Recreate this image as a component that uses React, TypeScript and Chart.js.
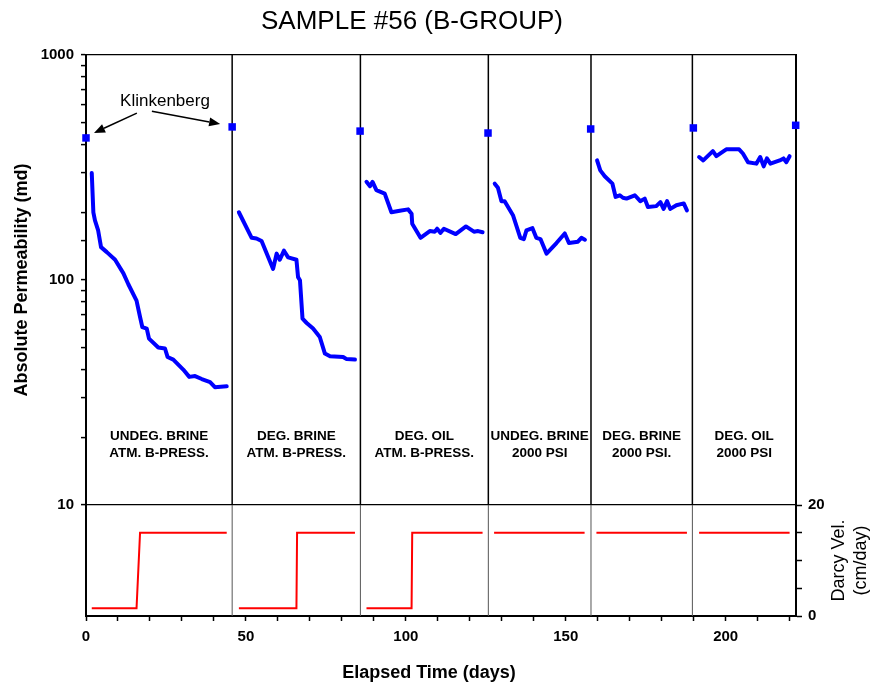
import React, { useEffect, useRef } from 'react';
import { Chart, registerables } from 'chart.js';

Chart.register(...registerables);

const FONT = '"Liberation Sans", Arial, Helvetica, sans-serif';

const TITLE = 'SAMPLE #56 (B-GROUP)';
const Y_TITLE = 'Absolute Permeability (md)';
const X_TITLE = 'Elapsed Time (days)';
const Y2_TITLE = ['Darcy Vel.', '(cm/day)'];
const NOTE = 'Klinkenberg';

// Permeability runs (days, md)
const RUN1_DAYS = [1.8, 2.3, 2.8, 3.8, 4.7, 6.5, 9.1, 11.7, 13.2, 15.8, 16.9, 17.6, 19.0, 19.7, 22.6, 24.7, 25.5, 27.3, 30.4, 32.3, 34.1, 36.2, 38.8, 40.3, 44.0];
const RUN1_PERM = [299, 200, 184, 166, 140, 133, 123, 107, 96, 81, 68.5, 61.8, 60.8, 54.9, 50.1, 49.6, 45.5, 44.3, 40.0, 37.1, 37.4, 36.3, 35.2, 33.4, 33.7];
const RUN2_DAYS = [47.8, 51.8, 53.3, 54.9, 58.5, 59.6, 60.6, 61.9, 63.2, 65.8, 66.3, 66.9, 67.7, 69.0, 71.0, 73.1, 74.7, 76.3, 80.4, 81.5, 84.1];
const RUN2_PERM = [200, 154, 153, 149, 112, 131, 123, 135, 126, 123, 103, 99.8, 67.3, 64.4, 60.8, 55.8, 47.1, 45.8, 45.5, 44.5, 44.3];
const RUN3_DAYS = [87.7, 88.8, 89.6, 90.8, 93.4, 95.5, 98.1, 100.7, 101.8, 102.0, 104.6, 107.5, 109.1, 109.8, 110.8, 111.9, 115.6, 118.8, 121.3, 122.6, 124.0];
const RUN3_PERM = [273, 261, 273, 251, 242, 200, 203, 206, 197, 178, 154, 165, 164, 169, 162, 169, 160, 173, 164, 165, 163];
const RUN4_DAYS = [127.8, 128.8, 129.9, 130.9, 133.5, 135.8, 136.9, 137.7, 139.6, 140.8, 142.1, 144.0, 147.1, 149.7, 151.0, 153.8, 154.9, 156.0];
const RUN4_PERM = [268, 257, 224, 224, 194, 154, 152, 166, 170, 154, 152, 131, 146, 161, 146, 148, 154, 151];
const RUN5_DAYS = [159.8, 160.8, 162.2, 164.6, 165.6, 166.9, 167.9, 169.0, 171.6, 173.3, 174.7, 175.7, 178.3, 179.6, 180.6, 181.7, 182.7, 184.6, 186.9, 187.9];
const RUN5_PERM = [340, 307, 289, 268, 234, 238, 232, 230, 238, 224, 230, 211, 213, 222, 207, 224, 207, 215, 219, 204];
const RUN6_DAYS = [191.7, 193.0, 196.0, 197.1, 198.7, 200.2, 204.2, 205.4, 207.0, 209.6, 210.8, 211.9, 212.9, 214.0, 216.9, 218.1, 219.0, 220.0];
const RUN6_PERM = [352, 340, 374, 355, 368, 381, 381, 365, 334, 329, 352, 320, 347, 329, 340, 347, 334, 355];

// Klinkenberg-corrected permeability
const KLINK_DAYS = [0, 45.7, 85.7, 125.7, 157.8, 189.9, 221.9];
const KLINK_PERM = [428, 479, 459, 450, 469, 474, 487];

// Darcy velocity steps (days, cm/day)
const DARCY1_DAYS = [1.8, 15.8, 16.9, 44.0];
const DARCY1_VEL = [1.4, 1.4, 15, 15];
const DARCY2_DAYS = [47.8, 65.8, 66.0, 84.1];
const DARCY2_VEL = [1.4, 1.4, 15, 15];
const DARCY3_DAYS = [87.7, 101.8, 102.0, 124.0];
const DARCY3_VEL = [1.4, 1.4, 15, 15];
const DARCY4_DAYS = [127.6, 155.9];
const DARCY4_VEL = [15, 15];
const DARCY5_DAYS = [159.6, 187.9];
const DARCY5_VEL = [15, 15];
const DARCY6_DAYS = [191.7, 220.0];
const DARCY6_VEL = [15, 15];

// Test-stage boundaries (days) and labels
const STAGE_BOUNDS = [0, 45.7, 85.8, 125.8, 157.9, 189.6, 222];
const STAGE_LABELS = [
  ['UNDEG. BRINE', 'ATM. B-PRESS.'],
  ['DEG. BRINE', 'ATM. B-PRESS.'],
  ['DEG. OIL', 'ATM. B-PRESS.'],
  ['UNDEG. BRINE', '2000 PSI'],
  ['DEG. BRINE', '2000 PSI.'],
  ['DEG. OIL', '2000 PSI'],
];
const STAGE_LABEL_LEVELS = [20.2, 17.0];

// Axis ranges / ticks
const X_MIN = 0;
const X_MAX = 222;
const X_LABELS = [0, 50, 100, 150, 200];
const PERM_MIN = 10;
const PERM_MAX = 1000;
const PERM_LABELS = [10, 100, 1000];
const VEL_MIN = 0;
const VEL_MAX = 20;
const VEL_LABELS = [0, 20];

// Klinkenberg note anchor (days, md)
const NOTE_POS = [24.7, 622];
const NOTE_TAILS = [[15.9, 552], [20.6, 562]];

const zip = (xs: number[], ys: number[]) => xs.map((x, i) => ({ x, y: ys[i] }));

const BLUE = '#0000ff';
const RED = '#ff0000';

function arrow(ctx: CanvasRenderingContext2D, x1: number, y1: number, x2: number, y2: number) {
  const ang = Math.atan2(y2 - y1, x2 - x1);
  const hl = 11;
  const hw = 4.5;
  const bx = x2 - hl * Math.cos(ang);
  const by = y2 - hl * Math.sin(ang);
  ctx.beginPath();
  ctx.moveTo(x1, y1);
  ctx.lineTo(bx, by);
  ctx.stroke();
  ctx.beginPath();
  ctx.moveTo(x2, y2);
  ctx.lineTo(bx + hw * Math.sin(ang), by - hw * Math.cos(ang));
  ctx.lineTo(bx - hw * Math.sin(ang), by + hw * Math.cos(ang));
  ctx.closePath();
  ctx.fill();
}

const decorPlugin = {
  id: 'decor',
  beforeDatasetsDraw(chart: any) {
    const { ctx, scales } = chart;
    const xs = scales.x;
    const yl = scales.yPerm;
    const yd = scales.yVel;
    ctx.save();
    STAGE_BOUNDS.slice(1, -1).forEach((d) => {
      const px = xs.getPixelForValue(d);
      ctx.strokeStyle = '#000';
      ctx.lineWidth = 1.5;
      ctx.beginPath();
      ctx.moveTo(px, yl.top);
      ctx.lineTo(px, yl.bottom);
      ctx.stroke();
      ctx.strokeStyle = '#555';
      ctx.lineWidth = 1;
      ctx.beginPath();
      ctx.moveTo(px, yd.top);
      ctx.lineTo(px, yd.bottom);
      ctx.stroke();
    });
    ctx.restore();
  },
  afterDraw(chart: any) {
    const { ctx, scales } = chart;
    const xs = scales.x;
    const yl = scales.yPerm;
    const yd = scales.yVel;
    ctx.save();
    ctx.fillStyle = '#000';
    ctx.strokeStyle = '#000';
    ctx.textAlign = 'center';
    ctx.textBaseline = 'middle';

    // Title
    ctx.font = `26px ${FONT}`;
    ctx.fillText(TITLE, 412, 22);

    // X title
    ctx.font = `bold 18px ${FONT}`;
    ctx.fillText(X_TITLE, 429, 673);

    // Y title (left)
    ctx.save();
    ctx.translate(22, (yl.top + yl.bottom) / 2);
    ctx.rotate(-Math.PI / 2);
    ctx.fillText(Y_TITLE, 0, 0);
    ctx.restore();

    // Y2 title (right)
    ctx.save();
    ctx.font = `18px ${FONT}`;
    ctx.translate(850, (yd.top + yd.bottom) / 2);
    ctx.rotate(-Math.PI / 2);
    ctx.fillText(Y2_TITLE[0], 0, -11);
    ctx.fillText(Y2_TITLE[1], 0, 11);
    ctx.restore();

    // Stage labels
    ctx.font = `bold 13.5px ${FONT}`;
    STAGE_LABELS.forEach((lines, i) => {
      const cx = (xs.getPixelForValue(STAGE_BOUNDS[i]) + xs.getPixelForValue(STAGE_BOUNDS[i + 1])) / 2;
      lines.forEach((t, j) => {
        ctx.fillText(t, cx, yl.getPixelForValue(STAGE_LABEL_LEVELS[j]));
      });
    });

    // Klinkenberg note
    ctx.font = `17px ${FONT}`;
    ctx.fillText(NOTE, xs.getPixelForValue(NOTE_POS[0]), yl.getPixelForValue(NOTE_POS[1]));
    ctx.lineWidth = 1.5;
    const tip1x = xs.getPixelForValue(KLINK_DAYS[0]) + 8;
    const tip1y = yl.getPixelForValue(KLINK_PERM[0]) - 5;
    const tip2x = xs.getPixelForValue(KLINK_DAYS[1]) - 12;
    const tip2y = yl.getPixelForValue(KLINK_PERM[1]) - 3;
    arrow(ctx, xs.getPixelForValue(NOTE_TAILS[0][0]), yl.getPixelForValue(NOTE_TAILS[0][1]), tip1x, tip1y);
    arrow(ctx, xs.getPixelForValue(NOTE_TAILS[1][0]), yl.getPixelForValue(NOTE_TAILS[1][1]), tip2x, tip2y);
    ctx.restore();
  },
};

const permSet = (days: number[], perm: number[]) => ({
  type: 'line' as const,
  data: zip(days, perm),
  yAxisID: 'yPerm',
  borderColor: BLUE,
  borderWidth: 4,
  pointRadius: 0,
  tension: 0,
  fill: false,
  borderJoinStyle: 'round' as const,
  borderCapStyle: 'round' as const,
});

const velSet = (days: number[], vel: number[]) => ({
  type: 'line' as const,
  data: zip(days, vel),
  yAxisID: 'yVel',
  borderColor: RED,
  borderWidth: 2,
  pointRadius: 0,
  tension: 0,
  fill: false,
});

const tickFont = { family: FONT, size: 15, weight: 'bold' as const };

export default function App() {
  const ref = useRef<HTMLCanvasElement>(null);

  useEffect(() => {
    if (!ref.current) return;
    const chart = new Chart(ref.current, {
      type: 'line',
      data: {
        datasets: [
          permSet(RUN1_DAYS, RUN1_PERM),
          permSet(RUN2_DAYS, RUN2_PERM),
          permSet(RUN3_DAYS, RUN3_PERM),
          permSet(RUN4_DAYS, RUN4_PERM),
          permSet(RUN5_DAYS, RUN5_PERM),
          permSet(RUN6_DAYS, RUN6_PERM),
          velSet(DARCY1_DAYS, DARCY1_VEL),
          velSet(DARCY2_DAYS, DARCY2_VEL),
          velSet(DARCY3_DAYS, DARCY3_VEL),
          velSet(DARCY4_DAYS, DARCY4_VEL),
          velSet(DARCY5_DAYS, DARCY5_VEL),
          velSet(DARCY6_DAYS, DARCY6_VEL),
          {
            type: 'line',
            data: zip(KLINK_DAYS, KLINK_PERM),
            yAxisID: 'yPerm',
            showLine: false,
            pointStyle: 'rect',
            pointRadius: 5.3,
            pointBorderWidth: 0,
            pointBackgroundColor: BLUE,
            pointBorderColor: BLUE,
            backgroundColor: BLUE,
            borderColor: BLUE,
            clip: false,
          } as any,
        ],
      },
      options: {
        animation: false,
        responsive: true,
        maintainAspectRatio: false,
        parsing: false,
        normalized: true,
        layout: { padding: { top: 55, left: 0, right: 0, bottom: 0 } },
        plugins: {
          legend: { display: false },
          tooltip: { enabled: false },
          title: { display: false },
        },
        scales: {
          x: {
            type: 'linear',
            position: 'bottom',
            min: X_MIN,
            max: X_MAX,
            ticks: {
              stepSize: 10,
              includeBounds: false,
              autoSkip: false,
              maxRotation: 0,
              padding: 7,
              color: '#000',
              font: tickFont,
              callback: (v: any) => (X_LABELS.includes(Number(v)) ? String(v) : ''),
            },
            grid: { drawOnChartArea: false, drawTicks: true, tickLength: 5, tickColor: '#000', tickWidth: 1.5 },
            border: { display: true, color: '#000', width: 2 },
            afterFit: (s: any) => { s.height = 76; },
          },
          yLeftBottom: {
            type: 'linear',
            position: 'left',
            stack: 'left',
            stackWeight: 111,
            ticks: { display: false },
            grid: { display: false },
            border: { display: true, color: '#000', width: 2 },
            afterFit: (s: any) => { s.width = 86; },
          },
          yPerm: {
            type: 'logarithmic',
            position: 'left',
            stack: 'left',
            stackWeight: 450,
            min: PERM_MIN,
            max: PERM_MAX,
            ticks: {
              autoSkip: false,
              padding: 7,
              color: '#000',
              font: tickFont,
              callback: (v: any) => (PERM_LABELS.includes(Number(v)) ? String(v) : ''),
            },
            grid: {
              drawOnChartArea: true,
              color: (c: any) => (c.tick && (c.tick.value === PERM_MIN || c.tick.value === PERM_MAX) ? '#000' : 'rgba(0,0,0,0)'),
              lineWidth: 1.2,
              tickLength: 5,
              tickColor: '#000',
              tickWidth: 1.5,
            },
            border: { display: true, color: '#000', width: 2 },
            afterFit: (s: any) => { s.width = 86; },
          },
          yRightTop: {
            type: 'linear',
            position: 'right',
            stack: 'right',
            stackWeight: 450,
            ticks: { display: false },
            grid: { display: false },
            border: { display: true, color: '#000', width: 2 },
            afterFit: (s: any) => { s.width = 79; },
          },
          yVel: {
            type: 'linear',
            position: 'right',
            stack: 'right',
            stackWeight: 111,
            min: VEL_MIN,
            max: VEL_MAX,
            ticks: {
              stepSize: 5,
              autoSkip: false,
              padding: 6,
              color: '#000',
              font: tickFont,
              callback: (v: any) => (VEL_LABELS.includes(Number(v)) ? String(v) : ''),
            },
            grid: { drawOnChartArea: false, tickLength: 6, tickColor: '#000', tickWidth: 1.5 },
            border: { display: true, color: '#000', width: 2 },
            afterFit: (s: any) => { s.width = 79; },
          },
        },
      } as any,
      plugins: [decorPlugin],
    });
    return () => chart.destroy();
  }, []);

  return (
    <div style={{ position: 'fixed', left: 0, top: 0, width: 875, height: 692, background: '#fff' }}>
      <canvas ref={ref} />
    </div>
  );
}
